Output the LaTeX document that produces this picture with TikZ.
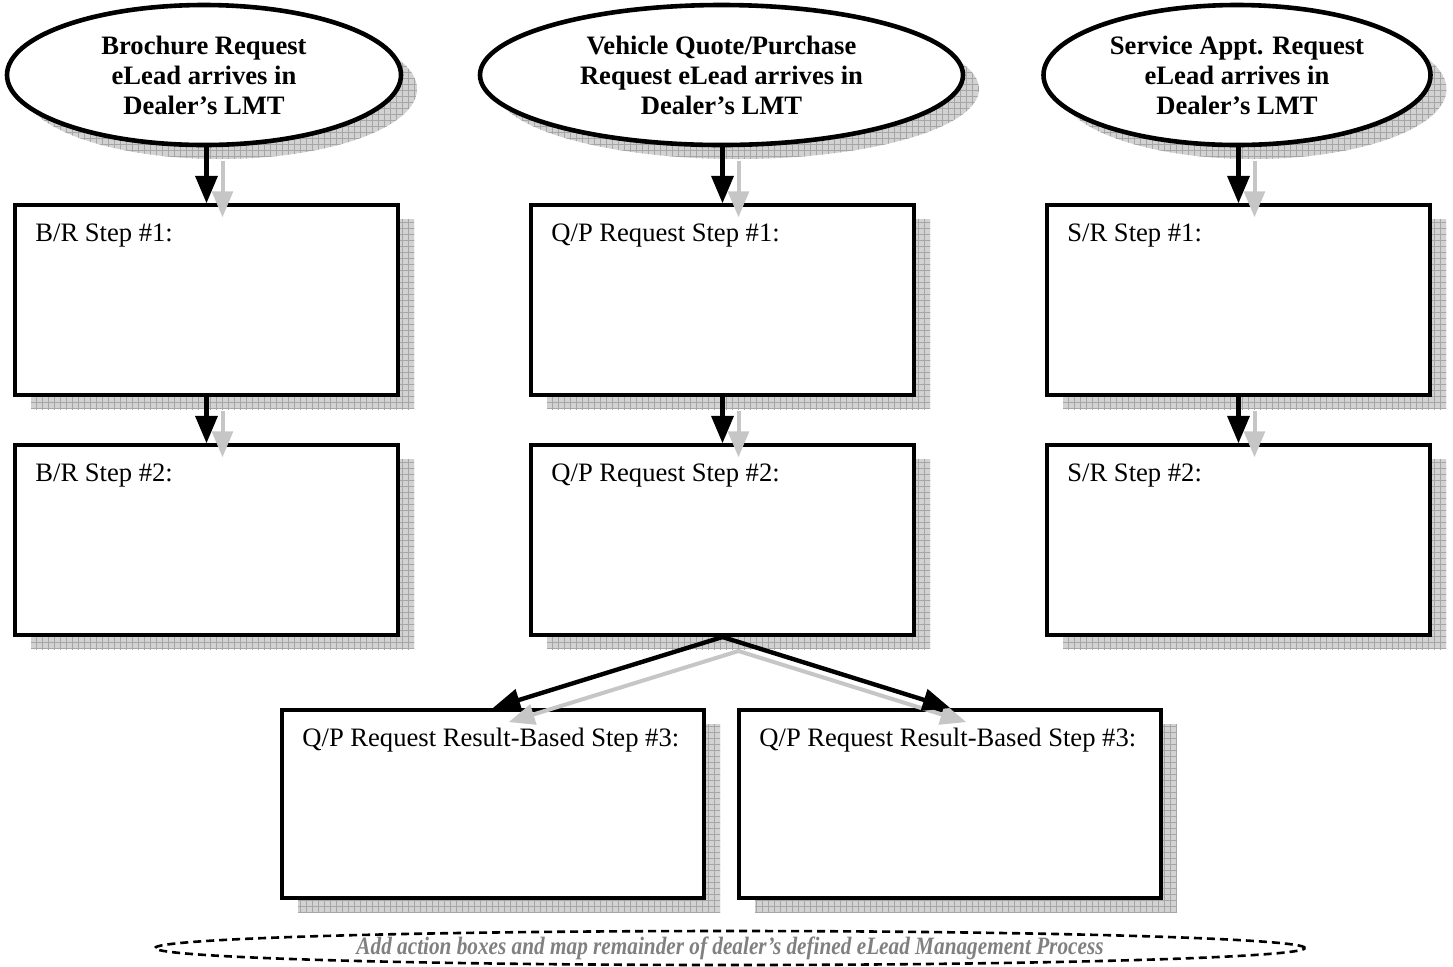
\documentclass[tikz,border=0pt]{standalone}
\usepackage{fontspec}
\setmainfont{Liberation Serif}
\newfontfamily\notefont[Ligatures=TeX,FakeStretch=0.85]{Liberation Serif}
\usetikzlibrary{arrows}
\usetikzlibrary{calc}
\usetikzlibrary{shapes.geometric}
\usetikzlibrary{shadows}
\usetikzlibrary{patterns}

\tikzset{
  shade/.style={drop shadow={shadow xshift=8pt,shadow yshift=-7pt,opacity=1,fill=gray!35,
      postaction={pattern=grid,pattern color=gray!70}}},
  start/.style={ellipse,draw,line width=2.3pt,fill=white,inner sep=0pt,minimum height=70pt,
      align=center,font=\fontsize{13.3}{15}\selectfont\bfseries,shade},
  stepbox/.style={rectangle,draw,line width=2pt,fill=white,shade},
  steptext/.style={anchor=north west,inner sep=0pt,font=\fontsize{13.3}{15}\selectfont},
  flow/.style={->,line width=2.2pt},
  flowshade/.style={->,line width=2pt,color=gray!45},
  note/.style={ellipse,draw,dashed,dash pattern=on 4pt off 2.5pt,line width=1.3pt,inner sep=0pt,
      minimum width=575pt,minimum height=17pt,text=gray,font=\notefont\fontsize{12.5}{13}\selectfont\itshape\bfseries}
}

\begin{document}
\begin{tikzpicture}[line cap=butt,line join=miter,>=triangle 45,x=0.5pt,y=-0.5pt]
\useasboundingbox (0,0) rectangle (1453,966);

%start ovals
\node[start,minimum width=197pt] (brq) at (204,75) {Brochure Request\\eLead arrives in\\Dealer's LMT};
\node[start,minimum width=241.5pt] (vqp) at (721.5,75) {Vehicle Quote/Purchase\\Request eLead arrives in\\Dealer's LMT};
\node[start,minimum width=193.5pt] (sar) at (1237,75) {Service Appt. Request\\eLead arrives in\\Dealer's LMT};

%step boxes
\foreach \n/\x/\y in {br1/206.5/300,br2/206.5/540,qp1/722.5/300,qp2/722.5/540,sr1/1238.5/300,sr2/1238.5/540}
{
\node[stepbox,minimum width=191.5pt,minimum height=95pt] (\n) at (\x,\y) {};
}
\node[stepbox,minimum width=211pt,minimum height=94pt] (qpl) at (493,804) {};
\node[stepbox,minimum width=211pt,minimum height=94pt] (qpr) at (950,804) {};

%texts
\node[steptext] (br1t) at ([shift={(11pt,-10pt)}]br1.north west) {B/R Step \#1:};
\node[steptext] (br2t) at ([shift={(11pt,-10pt)}]br2.north west) {B/R Step \#2:};
\node[steptext] (qp1t) at ([shift={(11pt,-10pt)}]qp1.north west) {Q/P Request Step \#1:};
\node[steptext] (qp2t) at ([shift={(11pt,-10pt)}]qp2.north west) {Q/P Request Step \#2:};
\node[steptext] (sr1t) at ([shift={(11pt,-10pt)}]sr1.north west) {S/R Step \#1:};
\node[steptext] (sr2t) at ([shift={(11pt,-10pt)}]sr2.north west) {S/R Step \#2:};
\node[steptext] (qplt) at ([shift={(11pt,-10pt)}]qpl.north west) {Q/P Request Result-Based Step \#3:};
\node[steptext] (qprt) at ([shift={(11pt,-10pt)}]qpr.north west) {Q/P Request Result-Based Step \#3:};

%arrows
\foreach \e/\a/\b in {brq/br1/br2,vqp/qp1/qp2,sar/sr1/sr2}
{
\draw[flowshade] ($(\a.north |- \e.south)+(8pt,-7pt)$) -- ($(\a.north)+(8pt,-7pt)$);
\draw[flowshade] ($(\a.south)+(8pt,-7pt)$) -- ($(\b.north)+(8pt,-7pt)$);
\draw[flow] (\a.north |- \e.south) -- (\a.north);
\draw[flow] (\a.south) -- (\b.north);
}
\draw[flowshade] ($(qp2.south)+(8pt,-7pt)$) -- ($(qpl.north)+(8pt,-7pt)$);
\draw[flowshade] ($(qp2.south)+(8pt,-7pt)$) -- ($(qpr.north)+(8pt,-7pt)$);
\draw[flow] (qp2.south) -- (qpl.north);
\draw[flow] (qp2.south) -- (qpr.north);

%remainder
\node[note] (rest) at (730,948) {Add action boxes and map remainder of dealer's defined eLead Management Process};
\end{tikzpicture}
\end{document}
